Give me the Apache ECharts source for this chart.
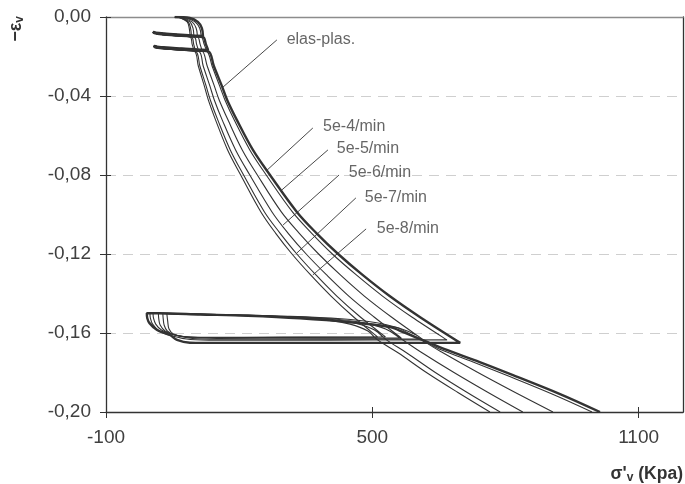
<!DOCTYPE html>
<html><head><meta charset="utf-8">
<script src="https://cdn.jsdelivr.net/npm/echarts@6/dist/echarts.min.js"></script>
<style>html,body{margin:0;padding:0;background:#fff}#c{width:685px;height:484px}</style>
</head><body><div id="c"></div>
<script>
const xTicks = [-100, 500, 1100];
const yTicks = [0, -0.04, -0.08, -0.12, -0.16, -0.20];

const elasPlas = [
 [55,0],[89,-0.0005],[107,-0.0025],[116,-0.0056],[118.5,-0.0096],
 [95,-0.0093],[60,-0.0088],[30,-0.0083],[12,-0.0079],[6,-0.0076],[9,-0.0082],[25,-0.0088],[60,-0.0094],[100,-0.0099],[119,-0.0102],
 [125,-0.0137],[130,-0.0167],
 [105,-0.0164],[70,-0.0159],[35,-0.0154],[15,-0.0150],[8,-0.0147],[11,-0.0154],[30,-0.0159],[70,-0.0165],[110,-0.0171],[131,-0.0174],
 [143,-0.0248],[161,-0.0349],[173,-0.0420],[195,-0.0522],[231,-0.0673],[269.5,-0.0800],[330,-0.0987],[374,-0.1094],[423,-0.1200],[478,-0.1306],[539,-0.1413],[607,-0.1519],[698,-0.1650],
 [500,-0.1650],[300,-0.1650],[120,-0.1650],[89,-0.1649],[60,-0.1635],[44,-0.1610],[15,-0.1585],[-2,-0.1550],[-7,-0.1525],[-8,-0.1500],
 [20,-0.1500],[112,-0.1506],[220,-0.1513],[337,-0.1526],[450,-0.1546],[540,-0.1570],[574,-0.1600],[625,-0.1646],[668,-0.1686],[742,-0.1747],[817,-0.1813],[923,-0.1909],[1013,-0.2000]
];
const rate5e4 = [
 [55,0],[78,-0.0005],[101,-0.0025],[111,-0.0056],[114.5,-0.0096],
 [95,-0.0093],[60,-0.0088],[30,-0.0083],[12,-0.0079],[6,-0.0076],[9,-0.0082],[25,-0.0088],[60,-0.0094],[100,-0.0099],[115,-0.0102],
 [121,-0.0137],[126,-0.0167],
 [105,-0.0164],[70,-0.0159],[35,-0.0154],[15,-0.0150],[8,-0.0147],[11,-0.0154],[30,-0.0159],[70,-0.0165],[110,-0.0171],[127,-0.0174],
 [139,-0.0248],[156,-0.0349],[168,-0.0420],[189,-0.0522],[224,-0.0673],[261,-0.0800],[320,-0.0987],[363,-0.1094],[410,-0.1200],[464,-0.1306],[523,-0.1413],[589,-0.1519],[668,-0.1635],
 [400,-0.1636],[150,-0.1637],[90,-0.1633],[50,-0.1615],[20,-0.1590],[5,-0.1555],[0,-0.1525],[-1,-0.1500],
 [25,-0.1501],[120,-0.1507],[250,-0.1513],[350,-0.1525],[460,-0.1545],[550,-0.1570],[585,-0.1605],[620,-0.1645],[655,-0.1685],[727,-0.1747],[801,-0.1813],[905,-0.1909],[995,-0.2000]
];
const rate5e5 = [
 [55,0],[74,-0.0005],[94,-0.0025],[103,-0.0056],[106,-0.0096],
 [95,-0.0094],[60,-0.0089],[30,-0.0084],[12,-0.0079],[6,-0.0076],[9,-0.0082],[25,-0.0088],[60,-0.0095],[95,-0.0100],[107,-0.0102],
 [112,-0.0137],[116,-0.0167],
 [105,-0.0166],[70,-0.0160],[35,-0.0155],[15,-0.0150],[8,-0.0147],[11,-0.0154],[30,-0.0160],[70,-0.0166],[105,-0.0172],[117,-0.0174],
 [128,-0.0248],[144,-0.0349],[155,-0.0420],[175,-0.0522],[207,-0.0673],[241,-0.0800],[295,-0.0987],[335,-0.1094],[379,-0.1200],[428,-0.1306],[482,-0.1413],[543,-0.1519],[612,-0.1630],
 [400,-0.1631],[150,-0.1632],[95,-0.1628],[55,-0.1610],[25,-0.1585],[12,-0.1555],[7,-0.1525],[6,-0.1500],
 [35,-0.1502],[150,-0.1507],[300,-0.1515],[430,-0.1528],[510,-0.1548],[560,-0.1575],[600,-0.1612],[622,-0.1650],[659,-0.1700],[738,-0.1800],[821,-0.1900],[907,-0.2000]
];
const rate5e6 = [
 [55,0],[71,-0.0005],[89,-0.0025],[96,-0.0056],[98,-0.0096],
 [60,-0.0090],[30,-0.0084],[12,-0.0079],[6,-0.0076],[9,-0.0082],[25,-0.0088],[60,-0.0095],[99,-0.0102],
 [104,-0.0137],[108,-0.0167],
 [70,-0.0161],[35,-0.0155],[15,-0.0150],[8,-0.0147],[11,-0.0154],[30,-0.0160],[70,-0.0167],[109,-0.0174],
 [119,-0.0248],[134,-0.0349],[144,-0.0420],[162,-0.0522],[192,-0.0673],[224,-0.0800],[274,-0.0987],[310,-0.1094],[351,-0.1200],[397,-0.1306],[447,-0.1413],[504,-0.1519],[565,-0.1625],
 [350,-0.1626],[150,-0.1627],[90,-0.1623],[55,-0.1610],[33,-0.1590],[22,-0.1560],[19,-0.1530],[18,-0.1500],
 [45,-0.1502],[150,-0.1507],[300,-0.1516],[420,-0.1530],[485,-0.1550],[530,-0.1580],[562,-0.1625],[612,-0.1700],[684,-0.1800],[760,-0.1900],[839,-0.2000]
];
const rate5e7 = [
 [55,0],[69,-0.0005],[85,-0.0025],[90.5,-0.0056],[92.5,-0.0096],
 [60,-0.0090],[30,-0.0084],[12,-0.0079],[6,-0.0076],[9,-0.0082],[25,-0.0088],[60,-0.0095],[93,-0.0102],
 [97.5,-0.0137],[101,-0.0167],
 [70,-0.0162],[35,-0.0155],[15,-0.0150],[8,-0.0147],[11,-0.0154],[30,-0.0160],[70,-0.0168],[102,-0.0174],
 [111.5,-0.0248],[125.5,-0.0349],[135,-0.0420],[152,-0.0522],[180,-0.0673],[210,-0.0800],[257,-0.0987],[292,-0.1094],[330,-0.1200],[373,-0.1306],[420,-0.1413],[473,-0.1519],[530,-0.1620],
 [350,-0.1622],[150,-0.1623],[85,-0.1620],[55,-0.1610],[38,-0.1590],[31,-0.1560],[29,-0.1530],[28,-0.1500],
 [50,-0.1502],[150,-0.1507],[300,-0.1518],[410,-0.1532],[465,-0.1552],[505,-0.1585],[532,-0.1635],[577,-0.1700],[642,-0.1800],[713,-0.1900],[788,-0.2000]
];
const rate5e8 = [
 [55,0],[68,-0.0005],[83,-0.0025],[87.5,-0.0056],[89.5,-0.0096],
 [60,-0.0091],[30,-0.0085],[12,-0.0079],[6,-0.0076],[9,-0.0082],[25,-0.0088],[60,-0.0096],[90,-0.0102],
 [94,-0.0137],[98,-0.0167],
 [70,-0.0162],[35,-0.0156],[15,-0.0150],[8,-0.0147],[11,-0.0154],[30,-0.0161],[70,-0.0168],[99,-0.0174],
 [108,-0.0248],[121.5,-0.0349],[130.5,-0.0420],[147,-0.0522],[174,-0.0673],[203.5,-0.0800],[249,-0.0987],[282,-0.1094],[319,-0.1200],[361,-0.1306],[407,-0.1413],[458,-0.1519],[512,-0.1620],
 [300,-0.1621],[120,-0.1622],[75,-0.1618],[52,-0.1605],[42,-0.1580],[39,-0.1540],[37,-0.1500],
 [60,-0.1502],[150,-0.1508],[300,-0.1520],[400,-0.1535],[450,-0.1555],[490,-0.1590],[512,-0.1635],[558,-0.1700],[622,-0.1800],[692,-0.1900],[765,-0.2000]
];

const leaderNames = ['elas-plas.', '5e-4/min', '5e-5/min', '5e-6/min', '5e-7/min', '5e-8/min'];
const leaderStart = [[285,-0.0116],[366,-0.0562],[400,-0.0673],[425,-0.0800],[463,-0.0916],[486,-0.1073]];
const leaderEnd   = [[161,-0.0360],[263,-0.0775],[296,-0.0876],[299,-0.1053],[330,-0.1195],[366,-0.1306]];
const leaderText  = [[307,-0.0116],[389,-0.0557],[420,-0.0666],[447,-0.0790],[483,-0.0914],[510,-0.1071]];

const FONT = 'Liberation Sans, Arial, sans-serif';
const INK = '#333333';
const TXT = '#404040';

const curves = [
  { data: elasPlas, width: 2.4 },
  { data: rate5e4, width: 1.1 },
  { data: rate5e5, width: 1.1 },
  { data: rate5e6, width: 1.1 },
  { data: rate5e7, width: 1.1 },
  { data: rate5e8, width: 1.1 }
];

const series = [];
curves.forEach(c => {
  series.push({
    type: 'line', data: c.data, showSymbol: false, symbol: 'none', silent: true, smooth: 0.35,
    lineStyle: { color: INK, width: c.width }, z: 3, animation: false
  });
});
leaderStart.forEach((p, i) => {
  series.push({
    type: 'line', data: [p, leaderEnd[i]], showSymbol: false, symbol: 'none', silent: true,
    lineStyle: { color: INK, width: 0.9 }, z: 4, animation: false
  });
});
series.push({
  type: 'scatter', symbolSize: 0, itemStyle: { color: 'rgba(0,0,0,0)' }, silent: true, animation: false,
  data: leaderText.map((p, i) => ({ value: p, name: leaderNames[i] })),
  label: { show: true, position: 'right', distance: 0, formatter: '{b}', fontSize: 16, color: TXT, fontFamily: FONT },
  labelLayout: { hideOverlap: false },
  z: 5
});

const xBase = { type: 'value', min: -100, max: 1200, interval: 600, gridIndex: 0 };
const yBase = { type: 'value', min: -0.2, max: 0, interval: 0.04, gridIndex: 0 };
const fmtY = v => Math.abs(v) < 1e-9 ? '0,00' : v.toFixed(2).replace('.', ',');
const fmtX = v => String(Math.round(v));

const option = {
  animation: false,
  backgroundColor: '#ffffff',
  grid: { left: 106, right: 2, top: 17, bottom: 72, containLabel: false },
  xAxis: [
    Object.assign({}, xBase, {
      position: 'bottom',
      axisLine: { show: true, onZero: false, lineStyle: { color: INK, width: 1.3 } },
      axisTick: { show: true, length: 6, customValues: xTicks, lineStyle: { color: INK, width: 1 } },
      axisLabel: { show: true, customValues: xTicks, formatter: fmtX, fontSize: 19, color: TXT, margin: 16, fontFamily: FONT },
      splitLine: { show: false }
    }),
    Object.assign({}, xBase, {
      position: 'bottom',
      axisLine: { show: false, onZero: false },
      axisTick: { show: true, inside: true, length: 5, customValues: xTicks, lineStyle: { color: INK, width: 1 } },
      axisLabel: { show: false },
      splitLine: { show: false }
    }),
    Object.assign({}, xBase, {
      position: 'top',
      axisLine: { show: true, onZero: false, lineStyle: { color: '#8c8c8c', width: 1.3 } },
      axisTick: { show: false }, axisLabel: { show: false }, splitLine: { show: false }
    })
  ],
  yAxis: [
    Object.assign({}, yBase, {
      position: 'left',
      axisLine: { show: true, onZero: false, lineStyle: { color: INK, width: 1.3 } },
      axisTick: { show: true, length: 6, customValues: yTicks, lineStyle: { color: INK, width: 1 } },
      axisLabel: { show: true, customValues: yTicks, formatter: fmtY, fontSize: 19, color: TXT, margin: 15, fontFamily: FONT },
      splitLine: { show: true, lineStyle: { type: [10, 7], color: '#cfcfcf', width: 1.2 } }
    }),
    Object.assign({}, yBase, {
      position: 'left',
      axisLine: { show: false, onZero: false },
      axisTick: { show: true, inside: true, length: 5, customValues: yTicks, lineStyle: { color: INK, width: 1 } },
      axisLabel: { show: false }, splitLine: { show: false }
    }),
    Object.assign({}, yBase, {
      position: 'right',
      axisLine: { show: true, onZero: false, lineStyle: { color: INK, width: 1.3 } },
      axisTick: { show: false }, axisLabel: { show: false }, splitLine: { show: false }
    })
  ],
  graphic: [
    {
      type: 'text', x: 16, y: 29, rotation: Math.PI / 2, silent: true,
      style: {
        text: '{a|\u2212\u03b5}{s|v}', align: 'center', verticalAlign: 'middle',
        rich: {
          a: { fontSize: 18, fontWeight: 'bold', fill: INK, fontFamily: FONT },
          s: { fontSize: 12, fontWeight: 'bold', fill: INK, fontFamily: FONT, verticalAlign: 'bottom', padding: [8, 0, 0, 0] }
        }
      }
    },
    {
      type: 'text', x: 683, y: 474, silent: true,
      style: {
        text: "{a|\u03c3'}{s|v}{a| (Kpa)}", align: 'right', verticalAlign: 'middle',
        rich: {
          a: { fontSize: 17.5, fontWeight: 'bold', fill: INK, fontFamily: FONT },
          s: { fontSize: 12, fontWeight: 'bold', fill: INK, fontFamily: FONT, verticalAlign: 'bottom', padding: [8, 0, 0, 0] }
        }
      }
    }
  ],
  series: series
};

const chart = echarts.init(document.getElementById('c'), null, { renderer: 'canvas' });
chart.setOption(option);
</script>
</body></html>
